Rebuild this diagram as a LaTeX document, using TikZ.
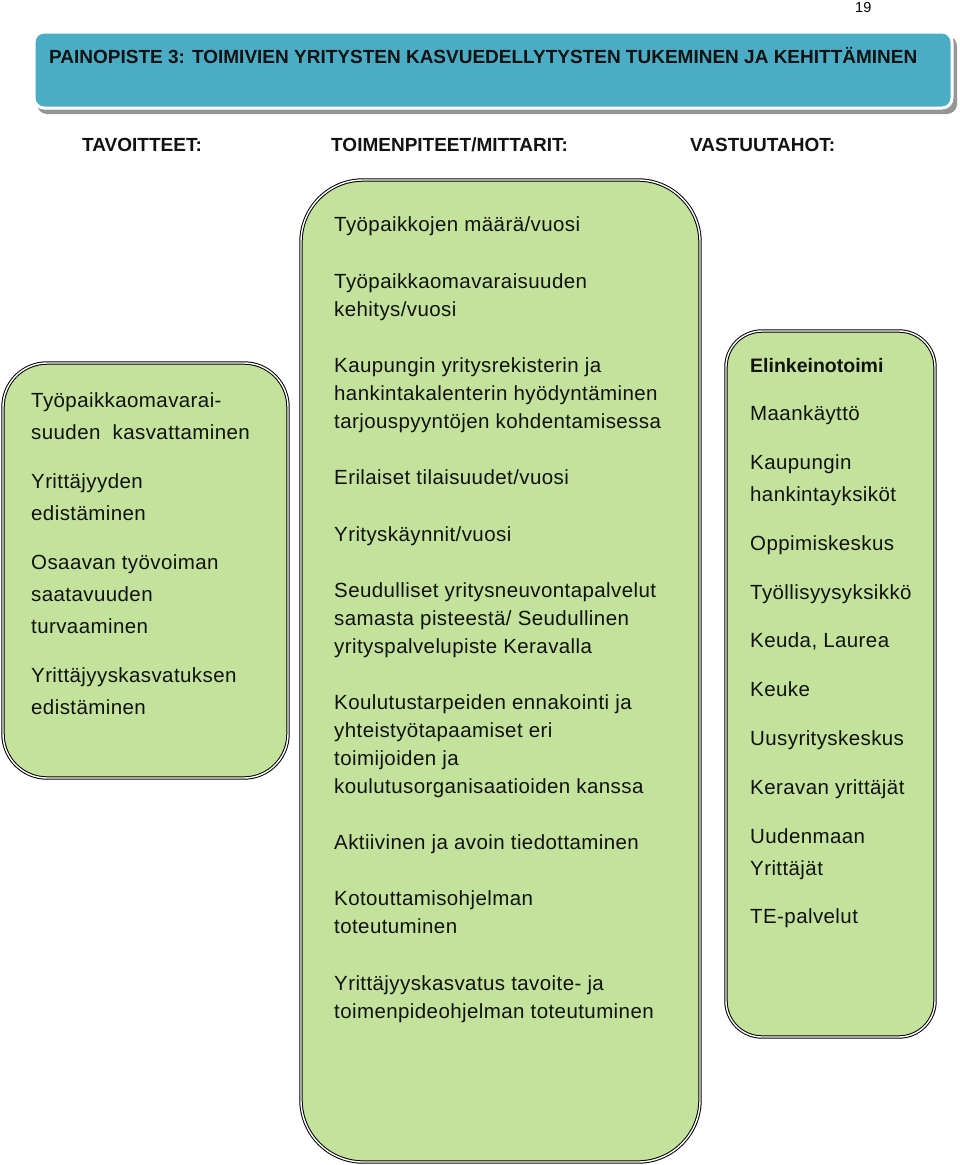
\documentclass[tikz,border=0pt]{standalone}
\usepackage{fontspec}
\setmainfont{Liberation Sans}
\newfontfamily\bodyfont{Liberation Sans}[LetterSpace=2]
\definecolor{headblue}{RGB}{75,172,198}
\definecolor{boxgreen}{RGB}{195,226,155}
\definecolor{textcol}{RGB}{18,18,18}
\definecolor{shadowgray}{RGB}{150,150,150}
\newcommand\stk[2]{\vtop{\baselineskip=#1pt\lineskiplimit=-100pt\lineskip=0pt\halign{##\hfil\cr#2\crcr}}}
\begin{document}
\begin{tikzpicture}[x=1pt,y=-1pt,
  box/.style={draw=black, line width=1pt, double=white, double distance=1.4pt, fill=boxgreen},
  txt/.style={inner sep=0pt, anchor=base west, text=textcol, font=\bodyfont\fontsize{20.5}{28}\selectfont},
  head/.style={inner sep=0pt, anchor=base west, text=textcol, font=\bfseries\fontsize{19}{23}\selectfont}]
\useasboundingbox (0,0) rectangle (960,1165);

% page number
\node[inner sep=0pt, anchor=base west, font=\fontsize{14.5}{17}\selectfont] (page) at (855,12) {19};

% header banner
\fill[shadowgray, rounded corners=10] (37,36) rectangle (957,114);
\draw[white, line width=3pt, fill=headblue, rounded corners=10] (34,32) rectangle (952,108);
\node[head] (title) at (49,63) {PAINOPISTE 3: TOIMIVIEN YRITYSTEN KASVUEDELLYTYSTEN TUKEMINEN JA KEHITTÄMINEN};

% column headings
\node[head] (h1) at (82,151) {TAVOITTEET:};
\node[head] (h2) at (331,151) {TOIMENPITEET/MITTARIT:};
\node[head] (h3) at (690,151) {VASTUUTAHOT:};

% boxes
\draw[box, rounded corners=44] (3,363) rectangle (288,778);
\draw[box, rounded corners=62] (301,180) rectangle (700,1162);
\draw[box, rounded corners=36] (726,331) rectangle (935,1037);

% left box: goals
\node[txt] (g1) at (31,407) {\stk{32}{Työpaikkaomavarai-\cr suuden~ kasvattaminen}};
\node[txt] (g2) at (31,488) {\stk{32}{Yrittäjyyden\cr edistäminen}};
\node[txt] (g3) at (31,569) {\stk{32}{Osaavan työvoiman\cr saatavuuden\cr turvaaminen}};
\node[txt] (g4) at (31,682) {\stk{32}{Yrittäjyyskasvatuksen\cr edistäminen}};

% middle box: measures
\node[txt] (m1) at (334,231) {Työpaikkojen määrä/vuosi};
\node[txt] (m2) at (334,288) {\stk{28}{Työpaikkaomavaraisuuden\cr kehitys/vuosi}};
\node[txt] (m3) at (334,372) {\stk{28}{Kaupungin yritysrekisterin ja\cr hankintakalenterin hyödyntäminen\cr tarjouspyyntöjen kohdentamisessa}};
\node[txt] (m4) at (334,484) {Erilaiset tilaisuudet/vuosi};
\node[txt] (m5) at (334,541) {Yrityskäynnit/vuosi};
\node[txt] (m6) at (334,597) {\stk{28}{Seudulliset yritysneuvontapalvelut\cr samasta pisteestä/ Seudullinen\cr yrityspalvelupiste Keravalla}};
\node[txt] (m7) at (334,709) {\stk{28}{Koulutustarpeiden ennakointi ja\cr yhteistyötapaamiset eri\cr toimijoiden ja\cr koulutusorganisaatioiden kanssa}};
\node[txt] (m8) at (334,849) {Aktiivinen ja avoin tiedottaminen};
\node[txt] (m9) at (334,905) {\stk{28}{Kotouttamisohjelman\cr toteutuminen}};
\node[txt] (m10) at (334,990) {\stk{28}{Yrittäjyyskasvatus tavoite- ja\cr toimenpideohjelman toteutuminen}};

% right box: responsible parties
\node[inner sep=0pt, anchor=base west, text=textcol, font=\bfseries\fontsize{19.5}{24}\selectfont] (r1) at (750,372) {Elinkeinotoimi};
\node[txt] (r2) at (750,420) {Maankäyttö};
\node[txt] (r3) at (750,469) {\stk{32}{Kaupungin\cr hankintayksiköt}};
\node[txt] (r4) at (750,550) {Oppimiskeskus};
\node[txt] (r5) at (750,599) {Työllisyysyksikkö};
\node[txt] (r6) at (750,647) {Keuda, Laurea};
\node[txt] (r7) at (750,696) {Keuke};
\node[txt] (r8) at (750,745) {Uusyrityskeskus};
\node[txt] (r9) at (750,794) {Keravan yrittäjät};
\node[txt] (r10) at (750,843) {\stk{32}{Uudenmaan\cr Yrittäjät}};
\node[txt] (r11) at (750,923) {TE-palvelut};
\end{tikzpicture}
\end{document}
